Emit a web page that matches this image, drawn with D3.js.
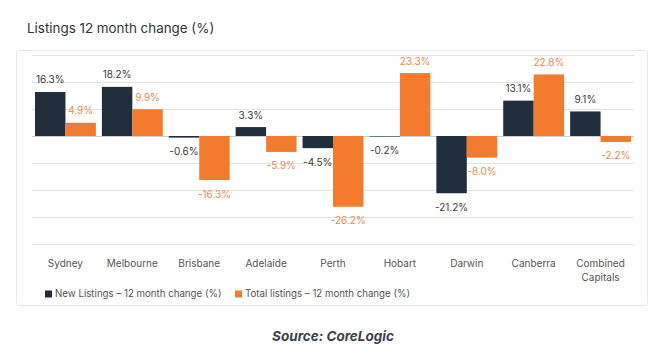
<!DOCTYPE html>
<html>
<head>
<meta charset="utf-8">
<script src="https://cdn.jsdelivr.net/npm/d3@7"></script>
<style>
  body { margin: 0; background: #fff; }
  svg { display: block; font-family: "Inter", "Noto Sans", sans-serif; }
</style>
</head>
<body>
<svg id="chart" width="663" height="363"></svg>
<script>
var categories = ["Sydney", "Melbourne", "Brisbane", "Adelaide", "Perth", "Hobart", "Darwin", "Canberra", "Combined Capitals"]
var newListings = [16.3, 18.2, -0.6, 3.3, -4.5, -0.2, -21.2, 13.1, 9.1]
var totalListings = [4.9, 9.9, -16.3, -5.9, -26.2, 23.3, -8.0, 22.8, -2.2]
var seriesNames = ["New Listings \u2013 12 month change (%)", "Total listings \u2013 12 month change (%)"]
var yTicks = [-40, -30, -20, -10, 0, 10, 20, 30]

var navy = "#212f3c"
var orange = "#f27b2d"

var svg = d3.select("#chart")

// outer card
svg.append("rect")
    .attr("x", 16.5).attr("y", 50.5)
    .attr("width", 631).attr("height", 255)
    .attr("rx", 3)
    .attr("fill", "#fff")
    .attr("stroke", "#e8e8e8")

svg.append("text")
    .attr("x", 27).attr("y", 33)
    .attr("font-size", 13.4)
    .attr("fill", "#333")
    .text("Listings 12 month change (%)")

var x = d3.scaleBand()
    .domain(categories)
    .range([32, 634])
    .paddingInner(0.09)
    .paddingOuter(0.045)

var x1 = d3.scaleBand()
    .domain([0, 1])
    .range([0, x.bandwidth()])

var y = d3.scaleLinear()
    .domain([-40, 30])
    .range([244, 55])

// gridlines
svg.append("g")
    .selectAll("line")
    .data(yTicks)
    .join("line")
    .attr("x1", 32).attr("x2", 634)
    .attr("y1", d => Math.round(y(d)) + 0.5)
    .attr("y2", d => Math.round(y(d)) + 0.5)
    .attr("stroke", d => d === 0 ? "#cfcfcf" : "#e3e3e3")
    .attr("stroke-width", 1)

var rows = categories.map((c, i) => ({ cat: c, vals: [newListings[i], totalListings[i]] }))

var groups = svg.append("g")
    .selectAll("g")
    .data(rows)
    .join("g")
    .attr("transform", d => "translate(" + x(d.cat) + ",0)")

groups.selectAll("rect")
    .data(d => d.vals.map((v, k) => ({ v: v, k: k })))
    .join("rect")
    .attr("x", d => x1(d.k))
    .attr("width", x1.bandwidth())
    .attr("y", d => y(Math.max(0, d.v)))
    .attr("height", d => Math.abs(y(d.v) - y(0)))
    .attr("fill", d => d.k === 0 ? navy : orange)

groups.selectAll("text")
    .data(d => d.vals.map((v, k) => ({ v: v, k: k })))
    .join("text")
    .attr("x", d => x1(d.k) + x1.bandwidth() / 2)
    .attr("y", d => d.v >= 0 ? y(d.v) - 12 : y(d.v) + 14)
    .attr("dy", "0.35em")
    .attr("text-anchor", "middle")
    .attr("font-size", 10)
    .attr("fill", d => d.k === 0 ? "#3a3a3a" : "#e98a4c")
    .text(d => d.v.toFixed(1) + "%")

// category labels
var xLabels = svg.append("g")
    .selectAll("text")
    .data(categories)
    .join("text")
    .attr("x", d => x(d) + x.bandwidth() / 2)
    .attr("y", 267)
    .attr("text-anchor", "middle")
    .attr("font-size", 10)
    .attr("fill", "#555")

xLabels.each(function (d) {
    var words = d === "Combined Capitals" ? ["Combined", "Capitals"] : [d]
    d3.select(this).selectAll("tspan")
        .data(words)
        .join("tspan")
        .attr("x", x(d) + x.bandwidth() / 2)
        .attr("dy", (w, i) => i === 0 ? 0 : 14)
        .text(w => w)
})

// legend
var legendX = [45, 235]
var legend = svg.append("g")
    .selectAll("g")
    .data(seriesNames)
    .join("g")
    .attr("transform", (d, i) => "translate(" + legendX[i] + ",294)")

legend.append("rect")
    .attr("x", 0).attr("y", -3.5)
    .attr("width", 7).attr("height", 7)
    .attr("fill", (d, i) => i === 0 ? navy : orange)

legend.append("text")
    .attr("x", 10).attr("dy", "0.35em")
    .attr("font-size", 9.7)
    .attr("fill", "#555")
    .text(d => d)

svg.append("text")
    .attr("x", 333).attr("y", 341)
    .attr("text-anchor", "middle")
    .attr("font-size", 13.5)
    .attr("font-weight", "bold")
    .attr("font-style", "italic")
    .attr("fill", "#3b3f4a")
    .text("Source: CoreLogic")
</script>
</body>
</html>
